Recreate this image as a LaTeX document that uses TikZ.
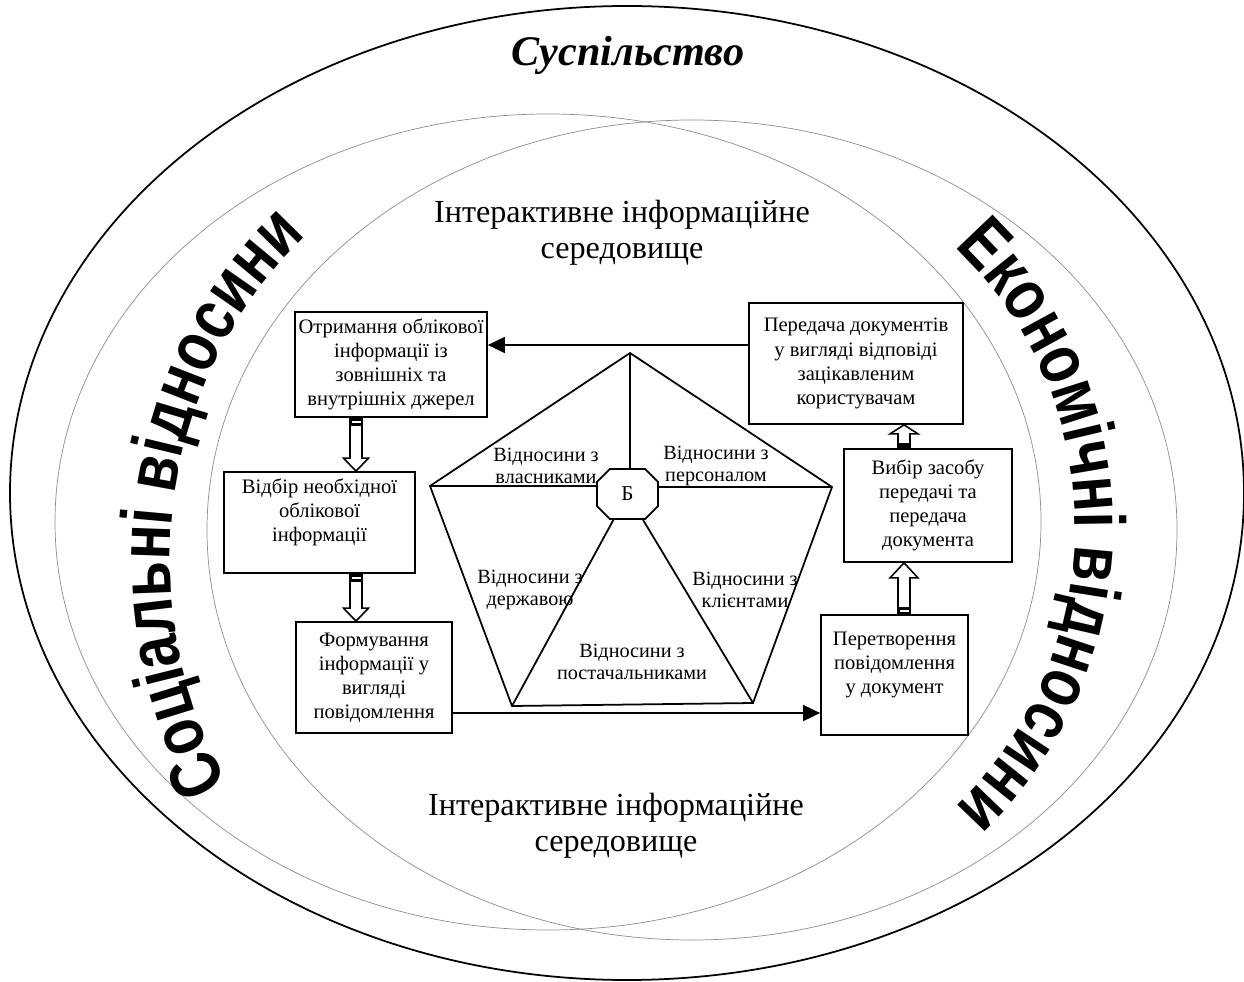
\documentclass[tikz,border=0pt]{standalone}
\usepackage{fontspec}
\setmainfont{Liberation Serif}
\setsansfont{Liberation Sans}
\newfontfamily\artfont{Liberation Sans}[FakeStretch=0.8]
\usetikzlibrary{arrows.meta,calc,shapes.misc,decorations.text}

\newcommand{\slovoart}{\fontsize{41}{41}\selectfont\artfont\bfseries}

\tikzset{
  blok/.style={draw, line width=1pt, align=center, inner sep=2pt, font=\fontsize{11.7}{13.7}\selectfont},
  vidn/.style={align=center, inner sep=0pt, font=\fontsize{11.5}{12.6}\selectfont},
  sered/.style={align=center, inner sep=0pt, font=\fontsize{18.3}{20.5}\selectfont},
  plyn/.style={draw=black!45, line width=0.4pt},
  blokstr/.style={draw, line width=0.9pt, fill=white},
  strilka/.style={line width=1pt, -{Triangle[length=0.34cm, width=0.32cm]}},
}

\begin{document}
\begin{tikzpicture}
\useasboundingbox (0,0) rectangle (24.88,19.62);

% ellipses
\draw[line width=1pt] (12.54,9.76) ellipse [x radius=12.34, y radius=9.74];
\draw[plyn] (10.96,9.18) ellipse [x radius=9.86, y radius=8.16];
\draw[plyn] (13.84,9.02) ellipse [x radius=9.70, y radius=8.20];

\node[font=\fontsize{24}{28}\selectfont\bfseries\itshape] (susp) at (12.56,18.52) {Суспільство};
\node[sered] (sered1) at (12.44,14.96) {Інтерактивне інформаційне\\середовище};
\node[sered] (sered2) at (12.32,3.10) {Інтерактивне інформаційне\\середовище};

% curved titles
\path[decorate, decoration={text along path, text align=center,
    text={|\slovoart|Соціальні відносини}}]
  (11.2,8.42) ++(216:7.8 and 8.52) arc[start angle=216, end angle=126, x radius=7.8, y radius=8.52];
\path[decorate, decoration={text along path, text align=center,
    text={|\slovoart|Економічні відносини}}]
  (13.80,9.08) ++(47:7.7 and 7.72) arc[start angle=47, end angle=-47, x radius=7.7, y radius=7.72];

% pentagon
\coordinate (pt) at (12.60,12.56);
\coordinate (pl) at (8.60,9.90);
\coordinate (pr) at (16.64,9.88);
\coordinate (pbl) at (10.24,5.50);
\coordinate (pbr) at (15.06,5.56);
\node[draw, line width=1pt, chamfered rectangle, chamfered rectangle xsep=0.22cm,
  chamfered rectangle ysep=0.17cm, minimum width=1.22cm, minimum height=1.0cm,
  inner sep=0pt, font=\fontsize{12}{14}\selectfont] (ob) at (12.55,9.74) {Б};
\draw[line width=1pt] (pt) -- (pl) -- (pbl) -- (pbr) -- (pr) -- cycle;
\draw[line width=1pt] (pt) -- (pt |- ob.north);
\draw[line width=1pt] (pl) -- (pl -| ob.west);
\draw[line width=1pt] (pr) -- (pr -| ob.east);
\draw[line width=1pt] (pbl) -- (ob);
\draw[line width=1pt] (pbr) -- (ob);

\node[vidn] (vlas) at (10.92,10.30) {Відносини з\\власниками};
\node[vidn] (pers) at (14.32,10.30) {Відносини з\\персоналом};
\node[vidn] (derzh) at (10.60,7.82) {Відносини з\\державою};
\node[vidn] (klien) at (14.90,7.82) {Відносини з\\клієнтами};
\node[vidn] (post) at (12.64,6.38) {Відносини з\\постачальниками};

% boxes
\node[blok, minimum width=3.76cm, minimum height=2.10cm] (b1) at (7.82,12.33)
  {Отримання облікової\\інформації із\\зовнішніх та\\внутрішніх джерел};
\node[blok, minimum width=3.82cm, minimum height=2.02cm] (b2) at (6.39,9.17)
  {Відбір необхідної\\облікової\\інформації\\~};
\node[blok, minimum width=3.12cm, minimum height=2.22cm] (b3) at (7.48,6.07)
  {Формування\\інформації у\\вигляді\\повідомлення};
\node[blok, minimum width=4.28cm, minimum height=2.42cm] (b4) at (17.12,12.35)
  {Передача документів\\у вигляді відповіді\\зацікавленим\\користувачам};
\node[blok, minimum width=3.36cm, minimum height=2.26cm] (b5) at (18.56,9.51)
  {Вибір засобу\\передачі та\\передача\\документа};
\node[blok, minimum width=2.94cm, minimum height=2.40cm] (b6) at (17.89,6.12)
  {Перетворення\\повідомлення\\у документ\\~};

% connectors
\coordinate (verh) at (12,12.72);
\coordinate (niz) at (12,5.36);
\coordinate (levstr) at (7.12,0);
\coordinate (pravstr) at (18.08,0);
\draw[strilka] (b4.west |- verh) -- (b1.east |- verh);
\draw[strilka] (b3.east |- niz) -- (b6.west |- niz);

\draw[blokstr] let \p1=(b1.south -| levstr), \p2=(b2.north -| levstr) in
  (\x1-0.12cm,\y1) -- (\x1-0.12cm,\y2+0.26cm) -- (\x1-0.25cm,\y2+0.26cm) -- (\p2)
  -- (\x1+0.25cm,\y2+0.26cm) -- (\x1+0.12cm,\y2+0.26cm) -- (\x1+0.12cm,\y1) -- cycle;
\fill let \p1=(b1.south -| levstr) in (\x1-0.12cm,\y1) rectangle (\x1+0.12cm,\y1-0.17cm);
\fill[white] let \p1=(b1.south -| levstr) in (\x1-0.09cm,\y1-0.07cm) rectangle (\x1+0.09cm,\y1-0.10cm);

\draw[blokstr] let \p1=(b2.south -| levstr), \p2=(b3.north -| levstr) in
  (\x1-0.12cm,\y1) -- (\x1-0.12cm,\y2+0.26cm) -- (\x1-0.25cm,\y2+0.26cm) -- (\p2)
  -- (\x1+0.25cm,\y2+0.26cm) -- (\x1+0.12cm,\y2+0.26cm) -- (\x1+0.12cm,\y1) -- cycle;
\fill let \p1=(b2.south -| levstr) in (\x1-0.12cm,\y1) rectangle (\x1+0.12cm,\y1-0.17cm);
\fill[white] let \p1=(b2.south -| levstr) in (\x1-0.09cm,\y1-0.07cm) rectangle (\x1+0.09cm,\y1-0.10cm);

\draw[blokstr] let \p1=(b6.north -| pravstr), \p2=(b5.south -| pravstr) in
  (\x1-0.12cm,\y1) -- (\x1-0.12cm,\y2-0.30cm) -- (\x1-0.28cm,\y2-0.30cm) -- (\p2)
  -- (\x1+0.28cm,\y2-0.30cm) -- (\x1+0.12cm,\y2-0.30cm) -- (\x1+0.12cm,\y1) -- cycle;
\fill let \p1=(b6.north -| pravstr) in (\x1-0.12cm,\y1) rectangle (\x1+0.12cm,\y1+0.14cm);
\fill[white] let \p1=(b6.north -| pravstr) in (\x1-0.09cm,\y1+0.05cm) rectangle (\x1+0.09cm,\y1+0.08cm);

\draw[blokstr] let \p1=(b5.north -| pravstr), \p2=(b4.south -| pravstr) in
  (\x1-0.12cm,\y1) -- (\x1-0.12cm,\y2-0.18cm) -- (\x1-0.28cm,\y2-0.18cm) -- (\p2)
  -- (\x1+0.28cm,\y2-0.18cm) -- (\x1+0.12cm,\y2-0.18cm) -- (\x1+0.12cm,\y1) -- cycle;
\fill let \p1=(b5.north -| pravstr) in (\x1-0.12cm,\y1) rectangle (\x1+0.12cm,\y1+0.10cm);
\end{tikzpicture}
\end{document}
